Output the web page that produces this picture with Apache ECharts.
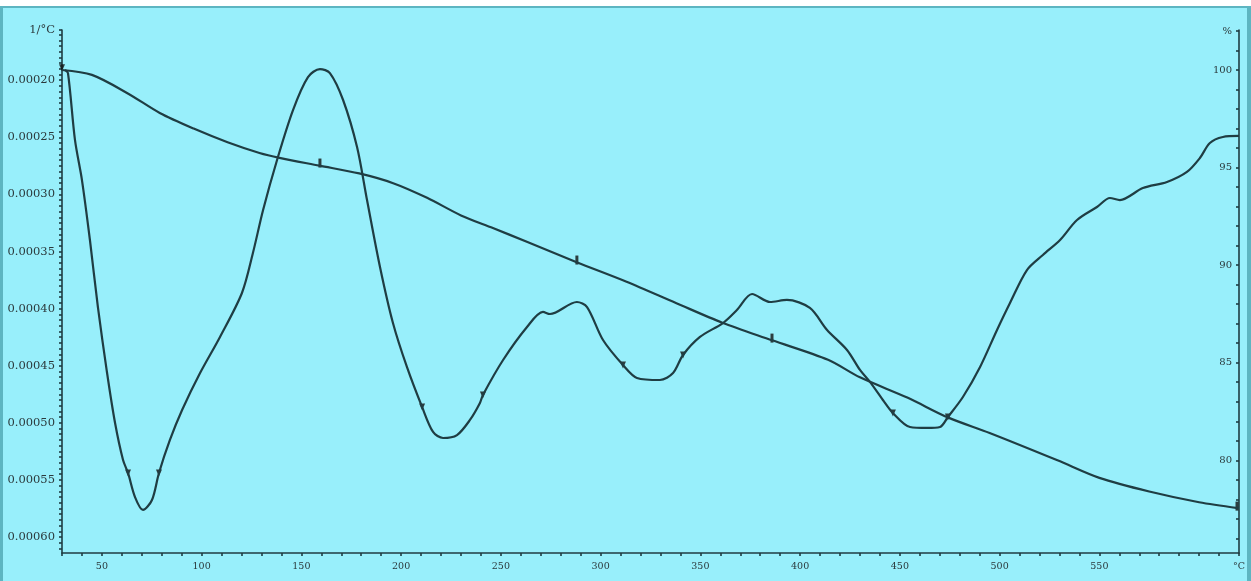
<!DOCTYPE html>
<html>
<head>
<meta charset="utf-8">
<script src="https://cdn.jsdelivr.net/npm/echarts@6/dist/echarts.min.js"></script>
<style>
html,body{margin:0;padding:0;background:#fff;}
#chart{width:1251px;height:581px;}
</style>
</head>
<body>
<div id="chart"></div>
<script>
// ---- Data ----
// TG curve (% mass, right axis)
const tgTemps = [30, 45, 63, 79, 96, 113, 129, 139, 159, 179, 196, 213, 230, 246, 263, 288, 313, 338, 361, 386, 414, 430, 454, 474, 495, 529, 550, 575, 600, 619.5];
const tgValues = [100.0, 99.75, 98.8, 97.8, 97.0, 96.3, 95.75, 95.5, 95.1, 94.7, 94.2, 93.45, 92.55, 91.9, 91.2, 90.15, 89.15, 88.05, 87.05, 86.15, 85.15, 84.25, 83.2, 82.2, 81.4, 80.0, 79.1, 78.4, 77.85, 77.55];

// DTG curve (1/°C, left axis, inverted)
const dtgTemps = [31.5, 33, 36.5, 40, 44, 48, 52.6, 56.6, 60.6, 63.1, 66.6, 70.6, 75.1, 78.6, 84.1, 90.2, 99.2, 109.2, 120.2, 125.7, 130.8, 137.8, 145.8, 153.3, 159.3, 164.3, 170.9, 177.9, 182.9, 189.4, 195.9, 202.9, 210.5, 216, 221, 228, 234.5, 239.5, 241, 251.1, 263.1, 271.1, 274.6, 288.1, 293.2, 301.2, 311.2, 318.2, 329.7, 336.3, 341.3, 349.8, 361.3, 368.3, 375.9, 384.9, 393.4, 404.9, 413.5, 423.5, 430, 435, 441.5, 446.5, 455.1, 463.6, 470.1, 474.1, 481.6, 490.2, 498.7, 505.2, 513.7, 521.7, 530.3, 538.8, 548.8, 555.3, 560.3, 571.8, 583.9, 593.9, 600.4, 605.4, 611.9, 620];
const dtgValues = [1.910e-4, 1.937e-4, 2.523e-4, 2.874e-4, 3.399e-4, 3.986e-4, 4.564e-4, 5.002e-4, 5.326e-4, 5.439e-4, 5.650e-4, 5.763e-4, 5.676e-4, 5.439e-4, 5.150e-4, 4.888e-4, 4.564e-4, 4.248e-4, 3.863e-4, 3.513e-4, 3.136e-4, 2.698e-4, 2.261e-4, 1.972e-4, 1.902e-4, 1.937e-4, 2.173e-4, 2.585e-4, 3.049e-4, 3.635e-4, 4.126e-4, 4.511e-4, 4.861e-4, 5.080e-4, 5.133e-4, 5.107e-4, 4.975e-4, 4.826e-4, 4.756e-4, 4.450e-4, 4.161e-4, 4.029e-4, 4.047e-4, 3.942e-4, 3.986e-4, 4.275e-4, 4.494e-4, 4.607e-4, 4.625e-4, 4.564e-4, 4.406e-4, 4.248e-4, 4.126e-4, 4.012e-4, 3.872e-4, 3.942e-4, 3.924e-4, 3.994e-4, 4.187e-4, 4.362e-4, 4.537e-4, 4.642e-4, 4.800e-4, 4.914e-4, 5.037e-4, 5.045e-4, 5.037e-4, 4.949e-4, 4.774e-4, 4.511e-4, 4.187e-4, 3.951e-4, 3.662e-4, 3.530e-4, 3.399e-4, 3.224e-4, 3.110e-4, 3.031e-4, 3.049e-4, 2.944e-4, 2.891e-4, 2.803e-4, 2.681e-4, 2.550e-4, 2.497e-4, 2.488e-4];

// Analysis markers
const dtgMarkTemps = [30, 63.1, 78.6, 210.5, 241, 311.2, 341.3, 446.5, 474.1];
const dtgMarkValues = [1.89e-4, 5.439e-4, 5.439e-4, 4.861e-4, 4.756e-4, 4.494e-4, 4.406e-4, 4.914e-4, 4.949e-4];
const tgMarkTemps = [159.3, 288.1, 385.9, 619];
const tgMarkValues = [95.13, 90.16, 86.16, 77.55];

// Axis ticks / labels
const xLabelValues = [50, 100, 150, 200, 250, 300, 350, 400, 450, 500, 550, 620];
const leftLabelValues = [0.000156, 0.00020, 0.00025, 0.00030, 0.00035, 0.00040, 0.00045, 0.00050, 0.00055, 0.00060];
const rightLabelValues = [80, 85, 90, 95, 100, 102];

const xMin = 30, xMax = 620, xStep = 10;
const lMin = 0.000156, lMax = 0.000614, lStep = 0.000005;
const rMin = 75.25, rMax = 102.05, rStep = 1;

function steps(start, end, step) {
  const out = [];
  const n = Math.round((end - start) / step);
  for (let i = 0; i <= n; i++) out.push(+(start + i * step).toPrecision(10));
  return out;
}
const xTicks = steps(30, 620, xStep);
const lTicks = [lMin].concat(steps(0.000160, 0.000610, lStep));
const rTicks = steps(76, 102, rStep);

const pair = (a, b) => a.map((t, i) => [t, b[i]]);

const lineColor = '#1f3d43';
const textColor = '#2b393c';
const fontFamily = 'DejaVu Serif';

const chart = echarts.init(document.getElementById('chart'));
chart.setOption({
  backgroundColor: '#98effb',
  animation: false,
  graphic: [
    { type: 'rect', shape: { x: 0, y: 0, width: 1251, height: 6 }, style: { fill: '#ffffff' }, silent: true },
    { type: 'rect', shape: { x: 0, y: 6, width: 1251, height: 2 }, style: { fill: '#5db5c1' }, silent: true },
    { type: 'rect', shape: { x: 0, y: 6, width: 3, height: 575 }, style: { fill: '#5db5c1' }, silent: true },
    { type: 'rect', shape: { x: 1247, y: 6, width: 4, height: 575 }, style: { fill: '#5db5c1' }, silent: true }
  ],
  grid: { left: 62, right: 12, top: 30, bottom: 28, containLabel: false },
  xAxis: {
    type: 'value', min: xMin, max: xMax,
    axisLine: { show: true, lineStyle: { color: lineColor, width: 1.6 } },
    axisTick: { show: true, length: 3, customValues: xTicks, lineStyle: { color: lineColor, width: 1.6 } },
    axisLabel: {
      customValues: xLabelValues, margin: 9,
      color: textColor, fontFamily: fontFamily, fontSize: 9.5,
      formatter: v => (v === 620 ? '°C' : String(v))
    },
    splitLine: { show: false }
  },
  yAxis: [
    {
      type: 'value', position: 'left', inverse: true, min: lMin, max: lMax,
      axisLine: { show: true, lineStyle: { color: lineColor, width: 1.6 } },
      axisTick: { show: true, length: 3, customValues: lTicks, lineStyle: { color: lineColor, width: 1.6 } },
      axisLabel: {
        customValues: leftLabelValues, margin: 7,
        color: textColor, fontFamily: fontFamily, fontSize: 11.5,
        formatter: v => (Math.abs(v - lMin) < 1e-9 ? '1/°C' : v.toFixed(5))
      },
      splitLine: { show: false }
    },
    {
      type: 'value', position: 'right', min: rMin, max: rMax,
      axisLine: { show: true, lineStyle: { color: lineColor, width: 1.6 } },
      axisTick: { show: true, inside: true, length: 3, customValues: rTicks, lineStyle: { color: lineColor, width: 1.6 } },
      axisLabel: {
        customValues: rightLabelValues, inside: true, margin: 7,
        color: textColor, fontFamily: fontFamily, fontSize: 10,
        formatter: v => (v === 102 ? '%' : String(v))
      },
      splitLine: { show: false }
    }
  ],
  series: [
    {
      name: 'DTG', type: 'line', yAxisIndex: 0, data: pair(dtgTemps, dtgValues),
      smooth: 0.3, showSymbol: false, lineStyle: { color: lineColor, width: 2.2 }
    },
    {
      name: 'TG', type: 'line', yAxisIndex: 1, data: pair(tgTemps, tgValues),
      smooth: 0.3, showSymbol: false, lineStyle: { color: lineColor, width: 2.2 }
    },
    {
      name: 'DTG marks', type: 'scatter', yAxisIndex: 0, data: pair(dtgMarkTemps, dtgMarkValues),
      symbol: 'triangle', symbolRotate: 180, symbolSize: [6, 7], itemStyle: { color: '#111' }
    },
    {
      name: 'TG marks', type: 'scatter', yAxisIndex: 1, data: pair(tgMarkTemps, tgMarkValues),
      symbol: 'rect', symbolSize: [3, 9], symbolOffset: [0, -2], itemStyle: { color: '#111' }
    }
  ]
});
</script>
</body>
</html>
